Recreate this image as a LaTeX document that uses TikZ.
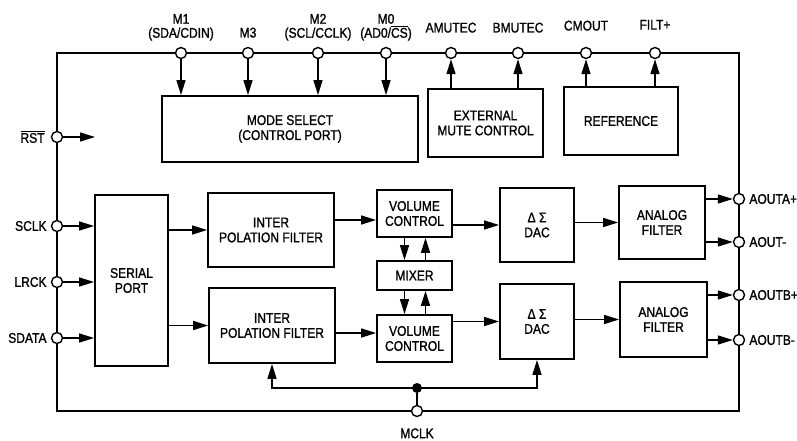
\documentclass[tikz,border=0pt]{standalone}
\usepackage{fontspec}
\setmainfont{Liberation Sans}[FakeStretch=0.86, FakeBold=1.2]
\usetikzlibrary{arrows.meta,positioning}
\tikzset
{
    block/.style    = {rectangle, draw=black, line width=1.8pt, align=center, inner sep=2pt},
    pinnode/.style  = {circle, draw=black, fill=white, line width=1.4pt, minimum size=11pt, inner sep=0pt},
    dotnode/.style  = {circle, fill=black, minimum size=10pt, inner sep=0pt},
    arrow/.style    = {line width=1.4pt, -{Triangle[length=15pt,width=9pt]}},
    wire/.style     = {line width=1.4pt},
    bus/.style      = {line width=2.7pt},
    pinlabel/.style = {font=\fontsize{14}{14}\selectfont, inner sep=1pt}
}

\begin{document}
\begin{tikzpicture}[x=1pt, y=-1pt, every node/.style={font=\fontsize{14}{15}\selectfont}]

   \useasboundingbox (0, 0) rectangle (797, 441);

   % chip outline
   \draw[bus] (57, 53) rectangle (739, 411);

   % blocks
   \node (mode)    [block, minimum width=256pt, minimum height=66pt]  at (290, 129)   {MODE SELECT\\(CONTROL PORT)};
   \node (mute)    [block, minimum width=115pt, minimum height=68pt]  at (485.5, 123) {EXTERNAL\\MUTE CONTROL};
   \node (ref)     [block, minimum width=114pt, minimum height=68pt]  at (621, 121)   {REFERENCE};
   \node (serial)  [block, minimum width=73pt, minimum height=171pt]  at (131.5, 280.5) {SERIAL\\PORT};
   \node (interpA) [block, minimum width=126pt, minimum height=74pt]  at (271, 230)   {INTER\\POLATION FILTER};
   \node (interpB) [block, minimum width=126pt, minimum height=75pt]  at (272, 325.5) {INTER\\POLATION FILTER};
   \node (volA)    [block, minimum width=75pt, minimum height=47pt]   at (414.5, 213.5) {VOLUME\\CONTROL};
   \node (mixer)   [block, minimum width=75pt, minimum height=29pt]   at (414.5, 275.5) {MIXER};
   \node (volB)    [block, minimum width=75pt, minimum height=47pt]   at (414.5, 338.5) {VOLUME\\CONTROL};
   \node (dacA)    [block, minimum width=74pt, minimum height=74pt]   at (537, 225)   {Δ Σ\\DAC};
   \node (dacB)    [block, minimum width=74pt, minimum height=75pt]   at (537, 321.5) {Δ Σ\\DAC};
   \node (filtA)   [block, minimum width=86pt, minimum height=73pt]   at (662, 222.5) {ANALOG\\FILTER};
   \node (filtB)   [block, minimum width=87pt, minimum height=75pt]   at (663.5, 319.5) {ANALOG\\FILTER};

   % pins on top
   \node (m1)     [pinnode, label={[pinlabel, align=center, label distance=5pt]above:{M1\\(SDA/CDIN)}}]  at (181, 53) {};
   \node (m3)     [pinnode, label={[pinlabel, label distance=8pt]above:M3}]                              at (248, 53) {};
   \node (m2)     [pinnode, label={[pinlabel, align=center, label distance=5pt]above:{M2\\(SCL/CCLK)}}]  at (318, 53) {};
   \node (m0)     [pinnode, label={[pinlabel, align=center, label distance=5pt]above:{M0\\(AD0/$\overline{\mbox{CS}}$)}}] at (386, 53) {};
   \node (amutec) [pinnode, label={[pinlabel, label distance=13pt]above:AMUTEC}] at (451, 53) {};
   \node (bmutec) [pinnode, label={[pinlabel, label distance=13pt]above:BMUTEC}] at (518, 53) {};
   \node (cmout)  [pinnode, label={[pinlabel, label distance=15pt]above:CMOUT}]  at (586, 53) {};
   \node (filt)   [pinnode, label={[pinlabel, label distance=16pt]above:FILT+}]  at (655, 53) {};

   % pins on the left
   \node (rst)    [pinnode, label={[pinlabel, label distance=5pt]left:$\overline{\mbox{RST}}$}] at (57, 137) {};
   \node (sclk)   [pinnode, label={[pinlabel, label distance=3pt]left:SCLK}]  at (57, 226) {};
   \node (lrck)   [pinnode, label={[pinlabel, label distance=3pt]left:LRCK}]  at (57, 282) {};
   \node (sdata)  [pinnode, label={[pinlabel, label distance=3pt]left:SDATA}] at (57, 338) {};

   % pins on the right
   \node (aoutap) [pinnode, label={[pinlabel, label distance=3pt]right:AOUTA+}] at (739, 199) {};
   \node (aoutam) [pinnode, label={[pinlabel, label distance=3pt]right:AOUT-}]  at (739, 242) {};
   \node (aoutbp) [pinnode, label={[pinlabel, label distance=3pt]right:AOUTB+}] at (739, 295) {};
   \node (aoutbm) [pinnode, label={[pinlabel, label distance=3pt]right:AOUTB-}] at (739, 340) {};

   % clock
   \node (clk)    [dotnode] at (417, 388) {};
   \node (mclk)   [pinnode, label={[pinlabel, label distance=10pt]below:MCLK}] at (417, 411) {};

   \coordinate (rstend) at (95, 137);

   \path
      (m1)      edge[arrow]  (m1 |- mode.north)
      (m3)      edge[arrow]  (m3 |- mode.north)
      (m2)      edge[arrow]  (m2 |- mode.north)
      (m0)      edge[arrow]  (m0 |- mode.north)
      (amutec |- mute.north) edge[arrow] (amutec)
      (bmutec |- mute.north) edge[arrow] (bmutec)
      (cmout |- ref.north)   edge[arrow] (cmout)
      (filt |- ref.north)    edge[arrow] (filt)
      (rst)     edge[arrow]  (rstend)
      (sclk)    edge[arrow]  (sclk -| serial.west)
      (lrck)    edge[arrow]  (lrck -| serial.west)
      (sdata)   edge[arrow]  (sdata -| serial.west)
      (serial.east |- interpA.west) edge[arrow] (interpA.west)
      (serial.east |- interpB.west) edge[arrow] (interpB.west)
      ([yshift=10pt]interpA.east)   edge[arrow] ([yshift=-6.5pt]volA.west)
      ([yshift=-7.5pt]interpB.east) edge[arrow] ([yshift=5.5pt]volB.west)
      ([xshift=-10pt]volA.south)    edge[arrow] ([xshift=-10pt]mixer.north)
      ([xshift=11pt]mixer.north)    edge[arrow] ([xshift=11pt]volA.south)
      ([xshift=-10pt]mixer.south)   edge[arrow] ([xshift=-10pt]volB.north)
      ([xshift=11pt]volB.north)     edge[arrow] ([xshift=11pt]mixer.south)
      (volA.east |- dacA.west)      edge[arrow] (dacA.west)
      (volB.east |- dacB.west)      edge[arrow] (dacB.west)
      (dacA.east |- filtA.west)     edge[arrow] (filtA.west)
      (dacB.east |- filtB.west)     edge[arrow] (filtB.west)
      (filtA.east |- aoutap)        edge[arrow] (aoutap)
      (filtA.east |- aoutam)        edge[arrow] (aoutam)
      (filtB.east |- aoutbp)        edge[arrow] (aoutbp)
      (filtB.east |- aoutbm)        edge[arrow] (aoutbm);

   \draw[wire]  (mclk) -- (clk);
   \draw[arrow] (clk.center) -| (interpB.south);
   \draw[arrow] (clk.center) -| (dacB.south);
\end{tikzpicture}
\end{document}
